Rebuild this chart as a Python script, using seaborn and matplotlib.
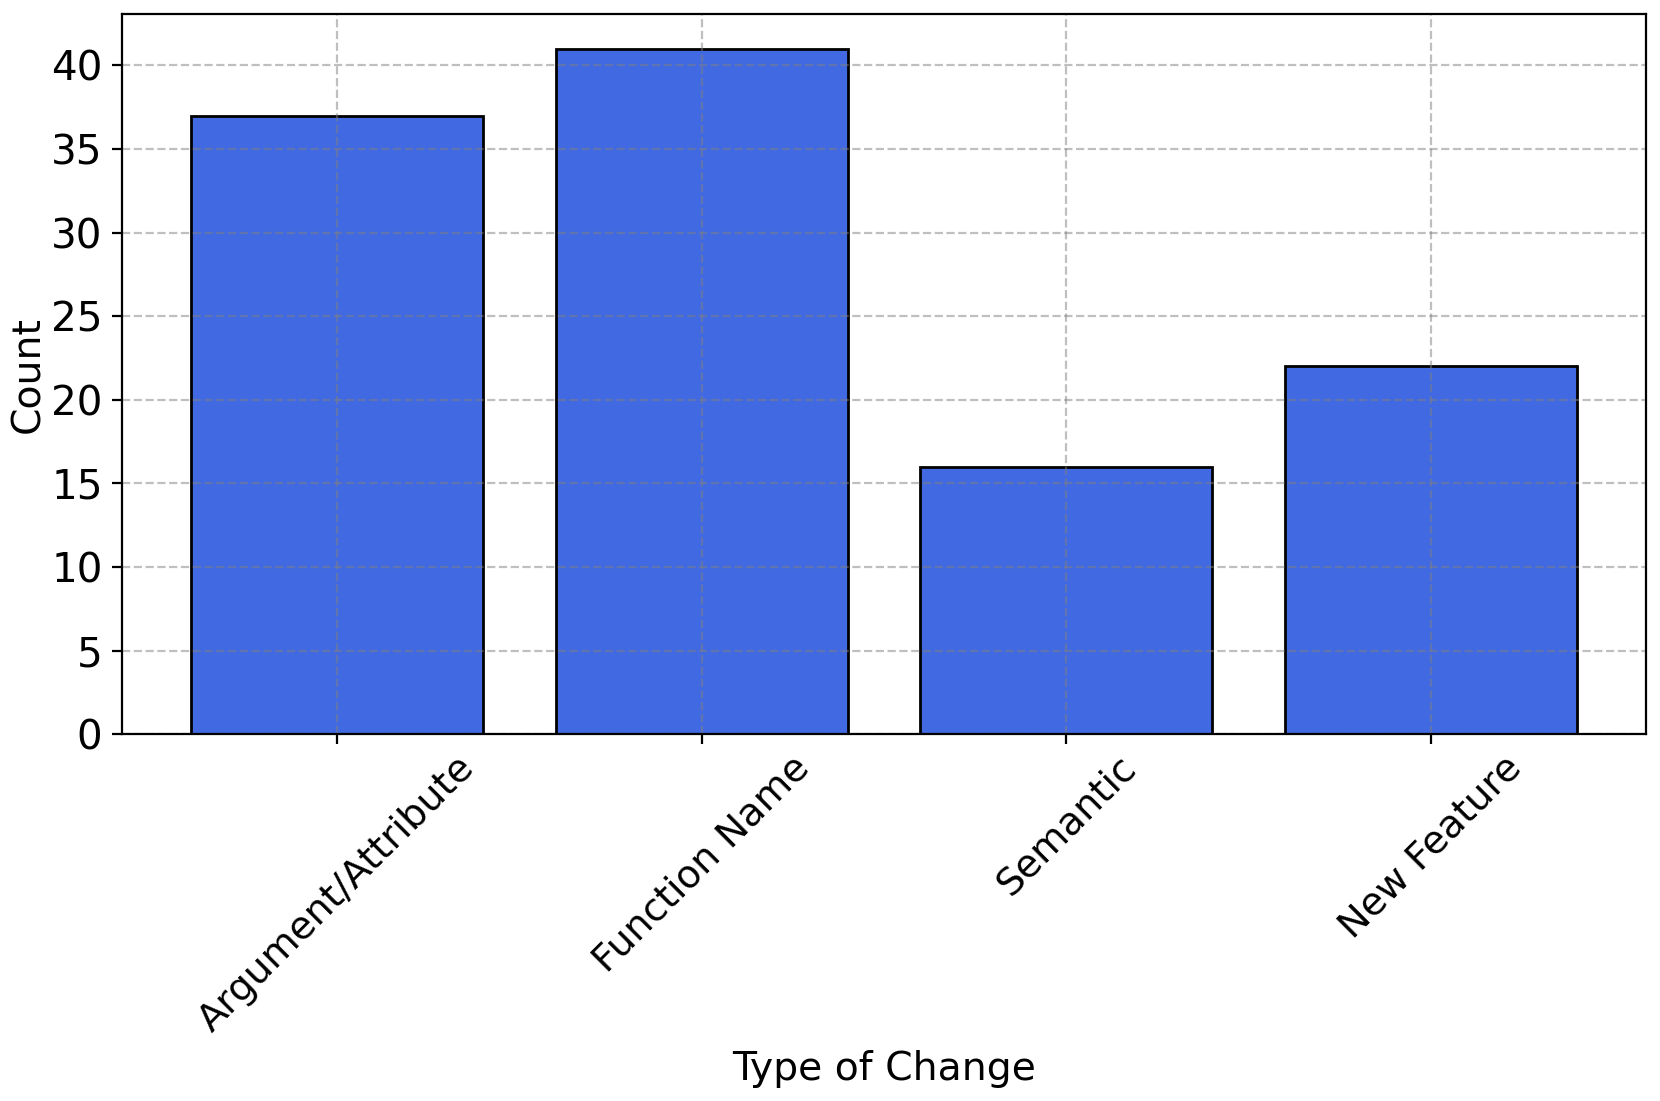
import matplotlib
matplotlib.use('Agg')
import matplotlib.pyplot as plt
from matplotlib.ticker import MultipleLocator
import seaborn as sns

# Datos
categories = ['Argument/Attribute', 'Function Name', 'Semantic', 'New Feature']
counts = [37, 41, 16, 22]

plt.rcParams['font.family'] = ['DejaVu Sans']
plt.rcParams['font.size'] = 14.2

fig, ax = plt.subplots(figsize=(8.3, 5.505), dpi=200)
sns.barplot(x=categories, y=counts, color='royalblue', saturation=1,
            edgecolor='black', linewidth=1, ax=ax)

ax.set_xlim(-0.59, 3.59)
ax.yaxis.set_major_locator(MultipleLocator(5))
ax.set_xlabel('Type of Change')
ax.set_ylabel('Count', labelpad=1.5)
ax.tick_params(axis='x', rotation=45, labelsize=13.8, pad=2)
ax.tick_params(axis='y', labelsize=14.6)
ax.grid(True, linestyle='--', color='gray', alpha=0.5)

fig.subplots_adjust(left=0.0735, right=0.9916, top=0.987, bottom=0.333)
fig.savefig('out.png', dpi=200)
